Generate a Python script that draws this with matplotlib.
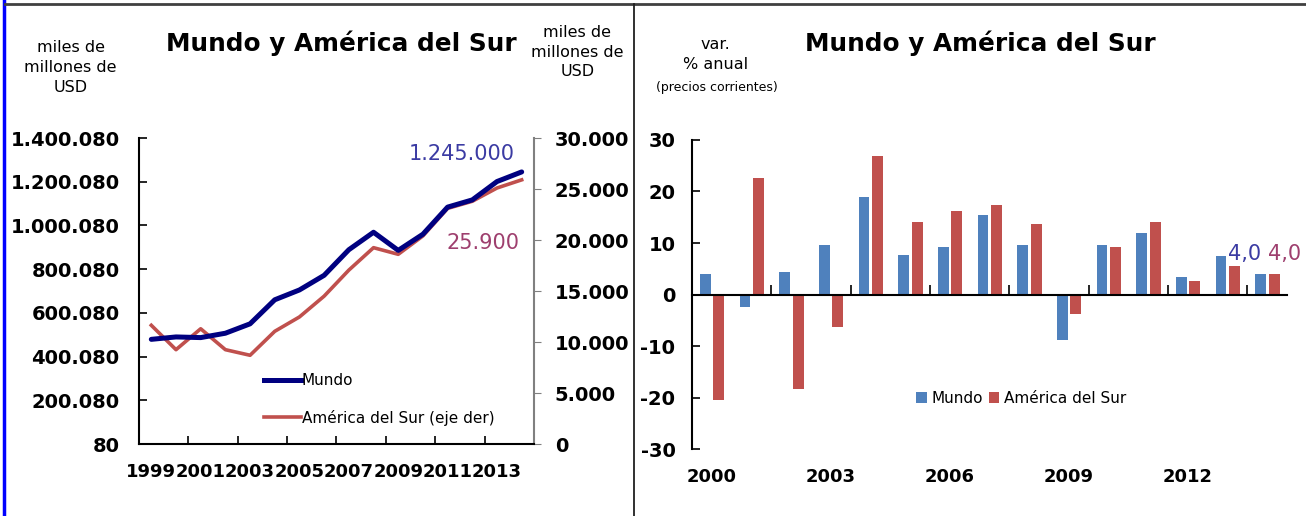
import matplotlib
matplotlib.use("Agg")
import matplotlib.pyplot as plt
from matplotlib.lines import Line2D
import numpy as np

plt.rcParams['font.family'] = ['DejaVu Sans']

# left chart: levels
years_lvl = list(range(1999, 2015))
mundo_lvl = [479000, 490000, 487000, 507000, 550000, 660000, 705000, 772000,
             889000, 969000, 886000, 960000, 1084000, 1117000, 1201000, 1245000]
sur_lvl = [11640, 9250, 11300, 9250, 8700, 11050, 12460, 14500,
           17050, 19250, 18600, 20400, 23100, 23800, 25100, 25900]

# right chart: annual growth (%)
years_var = list(range(2000, 2015))
mundo_var = [3.9, -2.4, 4.3, 9.6, 19.0, 7.6, 9.3, 15.4, 9.6, -8.9, 9.6, 12.0, 3.4, 7.4, 4.0]
sur_var = [-20.4, 22.6, -18.4, -6.3, 26.9, 14.0, 16.2, 17.3, 13.7, -3.8, 9.3, 14.0, 2.6, 5.6, 4.0]

NAVY = '#000080'
RED = '#C0504D'
BLUE = '#4F81BD'
LBL_BLUE = '#3B3BA3'
LBL_PURPLE = '#9E3F6E'


def dots(v, pos=None):
    return f"{int(round(v)):,}".replace(",", ".")


fig = plt.figure(figsize=(13.06, 5.16), dpi=100)

# ---------- left chart ----------
ax = fig.add_axes([0.1064, 0.1395, 0.3025, 0.593])
x = np.arange(len(years_lvl))
ax.plot(x, mundo_lvl, color=NAVY, lw=3.6, solid_capstyle='round', zorder=3)
ax.set_xlim(-0.5, len(years_lvl) - 0.5)
ax.set_ylim(80, 1400080)
yt = np.arange(80, 1400081, 200000)
ax.set_yticks(yt)
ax.set_yticklabels([dots(v) for v in yt], fontsize=14, fontweight='bold')
ax.tick_params(axis='y', direction='in', length=6, width=1.2, pad=14)
ax.set_xticks(x[::2])
ax.set_xticklabels([str(y) for y in years_lvl[::2]], fontsize=13, fontweight='bold')
ax.set_xticks(np.arange(1.5, len(years_lvl) - 1, 2), minor=True)
ax.tick_params(axis='x', which='major', length=0, pad=14)
ax.tick_params(axis='x', which='minor', direction='in', length=6, width=1.2)
for s in ['top', 'right']:
    ax.spines[s].set_visible(False)
for s in ['left', 'bottom']:
    ax.spines[s].set_linewidth(1.5)

ax2 = ax.twinx()
ax2.plot(x, sur_lvl, color=RED, lw=2.6, zorder=2)
ax2.set_ylim(0, 30000)
yt2 = np.arange(0, 30001, 5000)
ax2.set_yticks(yt2)
ax2.set_yticklabels([dots(v) for v in yt2], fontsize=14, fontweight='bold')
ax2.tick_params(axis='y', direction='out', length=5, color='#808080', pad=10)
for s in ['top', 'left', 'bottom']:
    ax2.spines[s].set_visible(False)
ax2.spines['right'].set_color('#808080')
ax2.spines['right'].set_linewidth(1.5)
ax.set_zorder(ax2.get_zorder() + 1)
ax.patch.set_visible(False)

handles = [Line2D([], [], color=NAVY, lw=3.6),
           Line2D([], [], color=RED, lw=2.6)]
ax.legend(handles, ['Mundo', 'América del Sur (eje der)'], loc='lower left',
          bbox_to_anchor=(0.282, 0.015), frameon=False, fontsize=11,
          handlelength=2.4, handletextpad=0.05, labelspacing=1.4)

ax.annotate(dots(mundo_lvl[-1]), (x[-1], mundo_lvl[-1]), xytext=(-43, 13),
            textcoords='offset points', ha='center', va='center',
            color=LBL_BLUE, fontsize=15)
ax2.annotate(dots(sur_lvl[-1]), (x[-1], sur_lvl[-1]), xytext=(-27.5, -45.5),
             textcoords='offset points', ha='center', va='center',
             color=LBL_PURPLE, fontsize=15)

fig.text(0.261, 0.916, 'Mundo y América del Sur', ha='center', va='center',
         fontsize=17.8, fontweight='bold')
fig.text(0.054, 0.922, 'miles de\nmillones de\nUSD', ha='center', va='top',
         fontsize=11.5, linespacing=1.4)
fig.text(0.442, 0.952, 'miles de\nmillones de\nUSD', ha='center', va='top',
         fontsize=11.5, linespacing=1.4)

# ---------- right chart ----------
bx = fig.add_axes([0.5299, 0.1298, 0.4556, 0.5989])
xv = np.arange(len(years_var))
w = 0.27
bx.bar(xv - 0.165, mundo_var, w, color=BLUE, label='Mundo', zorder=2)
bx.bar(xv + 0.175, sur_var, w, color=RED, label='América del Sur', zorder=2)
bx.set_xlim(-0.5, len(years_var) - 0.5)
bx.set_ylim(-30, 30)
bx.set_yticks(np.arange(-30, 31, 10))
bx.set_yticklabels([str(v) for v in range(-30, 31, 10)], fontsize=14, fontweight='bold')
bx.tick_params(axis='y', direction='in', length=6, width=1.2, pad=12)
bx.spines['bottom'].set_position(('data', 0))
bx.set_xticks(np.arange(1.5, len(years_var) - 1, 2))
bx.set_xticklabels([])
bx.tick_params(axis='x', direction='in', length=7, width=1.2)
for s in ['top', 'right']:
    bx.spines[s].set_visible(False)
for s in ['left', 'bottom']:
    bx.spines[s].set_linewidth(1.5)

sec = bx.secondary_xaxis('bottom')
sec.set_xticks(xv[::3])
sec.set_xticklabels([str(y) for y in years_var[::3]], fontsize=13, fontweight='bold')
sec.tick_params(length=0, pad=14)
sec.spines['bottom'].set_visible(False)

bx.legend(loc='center', bbox_to_anchor=(0.553, 0.165), ncol=2, frameon=False,
          fontsize=11, handlelength=0.7, handleheight=0.7, handletextpad=0.3,
          columnspacing=0.4)

bx.annotate(f"{mundo_var[-1]:.1f}".replace('.', ','), (xv[-1] - 0.165, mundo_var[-1]),
            xytext=(-11.5, 14.5), textcoords='offset points', ha='center', va='center',
            color=LBL_BLUE, fontsize=15)
bx.annotate(f"{sur_var[-1]:.1f}".replace('.', ','), (xv[-1] + 0.175, sur_var[-1]),
            xytext=(7.6, 14.5), textcoords='offset points', ha='center', va='center',
            color=LBL_PURPLE, fontsize=15)

fig.text(0.751, 0.916, 'Mundo y América del Sur', ha='center', va='center',
         fontsize=17.8, fontweight='bold')
fig.text(0.548, 0.928, 'var.\n% anual', ha='center', va='top', fontsize=11.5,
         linespacing=1.4)
fig.text(0.549, 0.843, '(precios corrientes)', ha='center', va='top', fontsize=9)

# frame lines
fig.add_artist(Line2D([0.003, 0.003], [0, 1], color='#0000FF', lw=2.5,
                      transform=fig.transFigure))
fig.add_artist(Line2D([0.004, 1], [0.993, 0.993], color='#404040', lw=2,
                      transform=fig.transFigure))
fig.add_artist(Line2D([0.4855, 0.4855], [0, 0.993], color='#202020', lw=1.3,
                      transform=fig.transFigure))

fig.savefig('out.png', dpi=100)
